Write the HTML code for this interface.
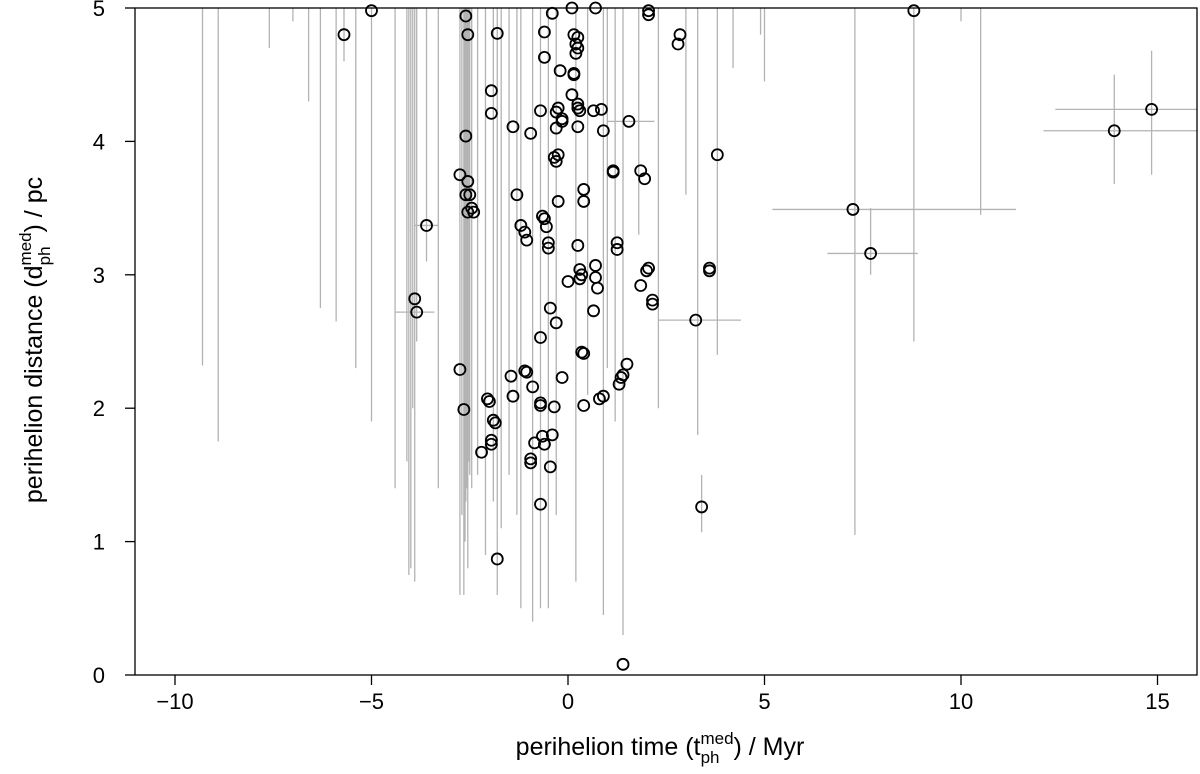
<!DOCTYPE html>
<html><head><meta charset="utf-8"><style>
body{margin:0;background:#fff;}
svg{display:block;font-family:"Liberation Sans",sans-serif;}
</style></head><body>
<svg id="chart" width="1200" height="774">
<g id="bars"></g>
<g id="pts"></g>
<g id="axes"></g>
<text x="660" y="755" font-size="25" text-anchor="middle">perihelion time (t<tspan font-size="17" dy="-11">med</tspan><tspan font-size="17" dx="-33" dy="19">ph</tspan><tspan dy="-8" dx="14">) / Myr</tspan></text>
<text transform="translate(42,340) rotate(-90)" font-size="25" text-anchor="middle">perihelion distance (d<tspan font-size="17" dy="-11">med</tspan><tspan font-size="17" dx="-33" dy="19">ph</tspan><tspan dy="-8" dx="14">) / pc</tspan></text>
</svg>
<script>
const xTicks=[-10,-5,0,5,10,15];
const yTicks=[0,1,2,3,4,5];
const ptX=[-5.7,-5.0,-3.6,-3.9,-3.85,-2.75,-2.75,-2.65,-2.6,-2.6,-2.55,-2.55,-2.5,-2.55,-2.45,-2.4,-2.6,-2.2,-2.05,-2.0,-1.95,-1.95,-1.9,-1.85,-1.95,-1.95,-1.8,-1.8,-1.45,-1.4,-1.4,-1.3,-1.2,-1.1,-1.05,-1.1,-1.05,-0.95,-0.95,-0.85,-0.9,-0.95,-0.7,-0.7,-0.7,-0.6,-0.65,-0.7,-0.65,-0.6,-0.55,-0.5,-0.5,-0.45,-0.4,-0.45,-0.35,-0.35,-0.3,-0.25,-0.3,-0.3,-0.25,-0.6,-0.6,-0.7,-0.4,-0.2,-0.25,-0.3,-0.15,-0.15,-0.15,0.0,0.1,0.15,0.15,0.15,0.2,0.2,0.25,0.25,0.25,0.25,0.25,0.3,0.25,0.3,0.35,0.3,0.35,0.4,0.4,0.4,0.4,0.65,0.7,0.1,0.65,0.7,0.7,0.75,0.8,0.9,0.85,0.9,1.15,1.15,1.25,1.25,1.3,1.35,1.4,1.4,1.5,1.55,1.85,1.85,1.95,2.0,2.05,2.05,2.05,2.15,2.15,2.8,2.85,3.25,3.4,3.6,3.6,3.8,7.25,7.7,8.8,13.9,14.85];
const ptY=[4.8,4.98,3.37,2.82,2.72,3.75,2.29,1.99,4.04,4.94,4.8,3.7,3.6,3.47,3.5,3.47,3.6,1.67,2.07,2.05,1.76,1.73,1.91,1.89,4.38,4.21,4.81,0.87,2.24,2.09,4.11,3.6,3.37,3.32,3.26,2.28,2.27,1.62,1.59,1.74,2.16,4.06,2.04,2.02,1.28,1.73,1.79,2.53,3.44,3.42,3.36,3.24,3.2,2.75,1.8,1.56,2.01,3.88,2.64,3.9,3.85,4.1,3.55,4.63,4.82,4.23,4.96,4.53,4.25,4.22,4.17,4.15,2.23,2.95,4.35,4.51,4.5,4.8,4.73,4.66,4.78,4.7,4.28,4.11,4.25,4.23,3.22,3.04,3.0,2.97,2.42,2.41,3.64,3.55,2.02,4.23,5.0,5.0,2.73,3.07,2.98,2.9,2.07,2.09,4.24,4.08,3.78,3.77,3.24,3.19,2.18,2.23,2.25,0.08,2.33,4.15,2.92,3.78,3.72,3.03,3.05,4.95,4.98,2.81,2.78,4.73,4.8,2.66,1.26,3.03,3.05,3.9,3.49,3.16,4.98,4.08,4.24];
const barX=[-9.3,-8.9,-7.6,-7.0,-6.6,-6.3,-5.9,-5.4,-5.0,-4.4,-4.1,-4.05,-4.0,-3.95,-3.9,-3.85,-3.6,-3.3,-2.75,-2.7,-2.65,-2.62,-2.6,-2.57,-2.55,-2.52,-2.5,-2.45,-2.3,-2.1,-1.7,-1.3,-1.2,-0.9,-0.5,0.2,0.9,1.2,1.8,2.3,3.0,3.3,3.8,4.2,4.9,5.0,7.3,8.8,10.5,10.0,-5.7,-1.8,-0.7,1.4,-1.9,-1.5,-0.3,0.5,1.0];
const barLo=[2.32,1.75,4.7,4.9,4.3,2.75,2.65,2.3,1.9,1.4,1.6,0.75,0.8,2.0,0.7,2.5,3.1,1.4,0.6,1.2,0.6,1.0,1.3,1.4,0.8,1.6,1.5,1.4,1.5,0.9,1.1,1.2,0.5,0.4,0.5,0.7,0.45,1.9,3.3,2.0,3.6,1.8,2.4,4.55,4.8,4.45,1.05,2.5,3.45,4.9,4.6,0.6,0.5,0.3,1.3,1.5,1.2,2.1,2.3];
const hY=[3.49,3.16,4.08,4.24,2.66,4.15,2.72,3.37];
const hLo=[5.2,6.6,12.1,12.4,2.3,1.0,-4.4,-3.9];
const hHi=[11.4,8.9,16,16,4.4,2.2,-3.4,-3.3];
const vX=[13.9,14.85,7.7,3.4];
const vLo=[3.68,3.75,3.0,1.07];
const vHi=[4.5,4.68,3.5,1.5];

const L=135,R=1197,T=8,B=675;
const sx=v=>568+v*39.3;
const sy=v=>675-v*133.4;
const NS="http://www.w3.org/2000/svg";
function mk(tag,attrs,parent){const e=document.createElementNS(NS,tag);for(const k in attrs)e.setAttribute(k,attrs[k]);parent.appendChild(e);return e;}
const bars=document.getElementById('bars'),pts=document.getElementById('pts'),axes=document.getElementById('axes');
const gray={stroke:'#b3b3b3','stroke-width':1.3};
for(let i=0;i<barX.length;i++){
 const e=mk('line',Object.assign({x1:sx(barX[i]),x2:sx(barX[i]),y1:sy(5),y2:sy(barLo[i])},gray),bars);
 
 
}
for(let i=0;i<hY.length;i++){
 const e=mk('line',Object.assign({x1:Math.max(L,sx(hLo[i])),x2:Math.min(R,sx(hHi[i])),y1:sy(hY[i]),y2:sy(hY[i])},gray),bars);
 
 
}
for(let i=0;i<vX.length;i++){
 const e=mk('line',Object.assign({x1:sx(vX[i]),x2:sx(vX[i]),y1:sy(vHi[i]),y2:sy(vLo[i])},gray),bars);
 
 
}
for(let i=0;i<ptX.length;i++){
 const c=mk('circle',{cx:sx(ptX[i]),cy:sy(ptY[i]),r:5.5,fill:'none',stroke:'#000','stroke-width':1.8},pts);
 
 
}
const box=mk('rect',{x:L,y:T,width:R-L,height:B-T,fill:'none',stroke:'#000','stroke-width':1.3},axes);


xTicks.forEach(t=>{
 const l=mk('line',{x1:sx(t),x2:sx(t),y1:B,y2:B+10,stroke:'#000','stroke-width':1.3},axes);
 
 
 const s=mk('text',{x:sx(t),y:B+34,'font-size':22,'text-anchor':'middle'},axes);
 s.textContent=(t<0?'\u2212'+(-t):String(t));
 
 
});
yTicks.forEach(t=>{
 const l=mk('line',{x1:L-10,x2:L,y1:sy(t),y2:sy(t),stroke:'#000','stroke-width':1.3},axes);
 
 
 const s=mk('text',{x:L-30,y:sy(t)+8,'font-size':22,'text-anchor':'end'},axes);
 s.textContent=String(t);
 
 
});
</script>
</body></html>
